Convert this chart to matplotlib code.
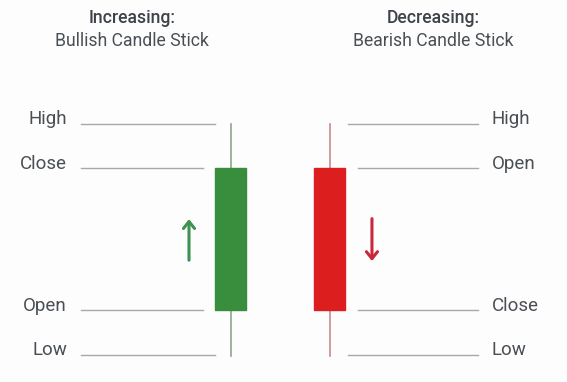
import matplotlib.pyplot as plt
from matplotlib.patches import Rectangle

# candle values (price units)
kinds = ["bull", "bear"]
opens = [58, 90]
closes = [90, 58]
highs = [100, 100]
lows = [48, 48]
colors = ["#388e3c", "#dc1e1e"]
wick_colors = ["#8aa88a", "#c98a8a"]

left_labels = ["High", "Close", "Open", "Low"]
left_vals = [100, 90, 58, 48]
right_labels = ["High", "Open", "Close", "Low"]
right_vals = [100, 90, 58, 48]

titles = ["Increasing:", "Decreasing:"]
subtitles = ["Bullish Candle Stick", "Bearish Candle Stick"]

txt = "#4a4f55"
grid = "#a8a8a8"

plt.rcParams['font.family'] = ['Roboto', 'DejaVu Sans']
fig = plt.figure(figsize=(5.67, 3.82), dpi=100)
fig.patch.set_facecolor("#fdfdfd")
ax = fig.add_axes([0, 0, 1, 1])
ax.set_facecolor("#fdfdfd")
ax.set_xlim(-2.333, 3.394)
ax.set_ylim(41.9, 127.9)
ax.axis("off")

w = 0.313
for i in range(2):
    ax.plot([i, i], [lows[i] - 0.3, highs[i]], color=wick_colors[i], lw=1.2, zorder=1)
    lo = min(opens[i], closes[i])
    ax.add_patch(Rectangle((i - w / 2, lo), w, abs(closes[i] - opens[i]),
                           facecolor=colors[i], edgecolor=colors[i], zorder=2))

# guide lines
for lab, v in zip(left_labels, left_vals):
    end = -0.162 if v in (highs[0], lows[0]) else -0.283
    ax.plot([-1.515, end], [v, v], color=grid, lw=1)
    ax.text(-1.657, v + 1.0, lab, ha="right", va="center", fontsize=13.5, color=txt)
for lab, v in zip(right_labels, right_vals):
    start = 1.182 if v in (highs[1], lows[1]) else 1.283
    ax.plot([start, 2.495], [v, v], color=grid, lw=1)
    ax.text(2.636, v + 1.0, lab, ha="left", va="center", fontsize=13.5, color=txt)

# arrows
ax.annotate("", xy=(-0.424, 79.2), xytext=(-0.424, 68.7),
            arrowprops=dict(arrowstyle="->,head_length=0.5,head_width=0.4", color="#3f9150", lw=2.2))
ax.annotate("", xy=(1.424, 68.5), xytext=(1.424, 79.3),
            arrowprops=dict(arrowstyle="->,head_length=0.5,head_width=0.4", color="#c9283a", lw=2.2))

for xc, t, s in zip([-1.0, 2.04], titles, subtitles):
    ax.text(xc, 123.8, t, ha="center", va="center", fontsize=12.7, color="#3e4349", fontweight="medium")
    ax.text(xc, 118.6, s, ha="center", va="center", fontsize=12.7, color=txt)

fig.savefig("out.png", dpi=100, facecolor=fig.get_facecolor())
